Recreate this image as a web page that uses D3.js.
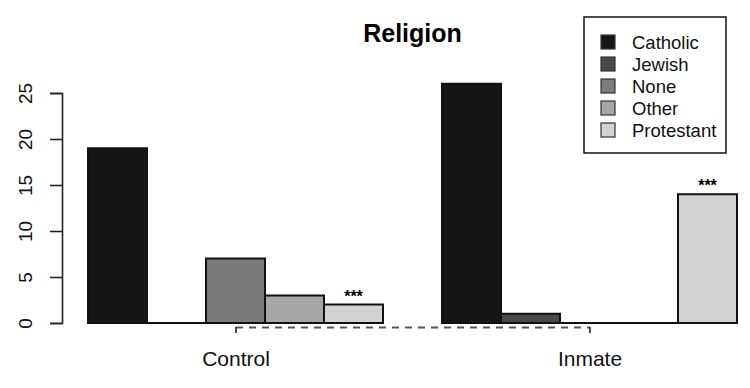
<!DOCTYPE html>
<html>
<head>
  <meta charset="utf-8">
  <title>Religion</title>
  <script src="https://cdnjs.cloudflare.com/ajax/libs/d3/7.8.5/d3.min.js"></script>
  <style>
    body { margin: 0; background: #fff; }
    svg { display: block; font-family: "Liberation Sans", Arial, sans-serif; }
    .bar { stroke: #111; stroke-width: 2px; }
    .axis path, .axis line { stroke: #222; stroke-width: 1.6px; }
    .axis text { fill: #111; }
    .yaxis text { font-size: 19px; }
    .xaxis text { font-size: 21px; }
  </style>
</head>
<body>
  <svg id="chart" width="750" height="388"></svg>
  <script>
    // data
    var groups = ["Control", "Inmate"];
    var religions = ["Catholic", "Jewish", "None", "Other", "Protestant"];
    var control = [19, 0, 7, 3, 2];
    var inmate = [26, 1, 0, 0, 14];
    var yTicks = [0, 5, 10, 15, 20, 25];
    var stars = ["", "", "", "", "***"];
    var fills = ["#161616", "#494949", "#7b7b7b", "#a6a6a6", "#d2d2d2"];

    var svg = d3.select("#chart");

    // bar units like R barplot(beside=TRUE): group g starts at 1 + g*6
    var x = d3.scaleLinear().domain([1, 12]).range([88, 737]);
    var y = d3.scaleLinear().domain([0, 25]).range([323, 93]);

    var bars = [];
    [control, inmate].forEach((vals, g) => {
      vals.forEach((v, i) => {
        bars.push({group: groups[g], rel: religions[i], i: i, value: v, x0: 1 + g * 6 + i, star: stars[i]});
      });
    });

    // paths so that zero bars still show their edge on the baseline
    svg.append("g")
      .selectAll("path")
      .data(bars)
      .enter()
      .append("path")
      .attr("class", "bar")
      .attr("d", d => `M${x(d.x0)},${y(0)}H${x(d.x0 + 1)}V${y(d.value)}H${x(d.x0)}Z`)
      .style("fill", d => fills[d.i]);

    svg.append("g")
      .selectAll("text")
      .data(bars.filter(d => d.star))
      .enter()
      .append("text")
      .attr("x", d => x(d.x0 + 0.5))
      .attr("y", d => y(d.value) - 3)
      .attr("text-anchor", "middle")
      .style("font-size", "16px")
      .style("font-weight", "bold")
      .text(d => d.star);

    // y axis, labels turned like R
    var yAxis = svg.append("g")
      .attr("class", "axis yaxis")
      .attr("transform", "translate(62,0)")
      .call(d3.axisLeft(y).tickValues(yTicks).tickSizeInner(12).tickSizeOuter(12));
    yAxis.selectAll("text")
      .attr("x", null).attr("dy", null).attr("y", null)
      .attr("text-anchor", "middle")
      .attr("transform", "translate(-30,0) rotate(-90)");

    // x axis from group centre to group centre, dashed
    var centers = groups.map((g, k) => 1 + k * 6 + religions.length / 2);
    var xc = d3.scaleLinear().domain(d3.extent(centers)).range(d3.extent(centers).map(x));
    var xAxis = svg.append("g")
      .attr("class", "axis xaxis")
      .attr("transform", "translate(0,327)")
      .call(d3.axisBottom(xc).tickValues(centers).tickSizeInner(6).tickSizeOuter(0)
        .tickFormat((d, k) => groups[k]));
    xAxis.select(".domain").style("stroke-dasharray", "7,6").style("stroke", "#555").style("stroke-width", "2.2px");
    xAxis.selectAll("text").attr("y", 39).attr("dy", null);

    // title
    svg.append("text")
      .attr("x", (x(1) + x(12)) / 2)
      .attr("y", 42)
      .attr("text-anchor", "middle")
      .style("font-size", "25px")
      .style("font-weight", "bold")
      .text("Religion");

    // legend
    var lg = svg.append("g").attr("transform", "translate(584,17)");
    lg.append("rect")
      .attr("width", 142).attr("height", 136)
      .style("fill", "#fff").style("stroke", "#111").style("stroke-width", 1.5);
    var items = lg.selectAll("g.item")
      .data(religions)
      .enter()
      .append("g")
      .attr("transform", (d, i) => `translate(0,${25 + i * 22})`);
    items.append("rect")
      .attr("x", 17).attr("y", -7)
      .attr("width", 14).attr("height", 14)
      .style("fill", (d, i) => fills[i])
      .style("stroke", "#333").style("stroke-width", 1.2);
    items.append("text")
      .attr("x", 48).attr("y", 6.5)
      .style("font-size", "18.5px")
      .style("fill", "#111")
      .text(d => d);
  </script>
</body>
</html>
